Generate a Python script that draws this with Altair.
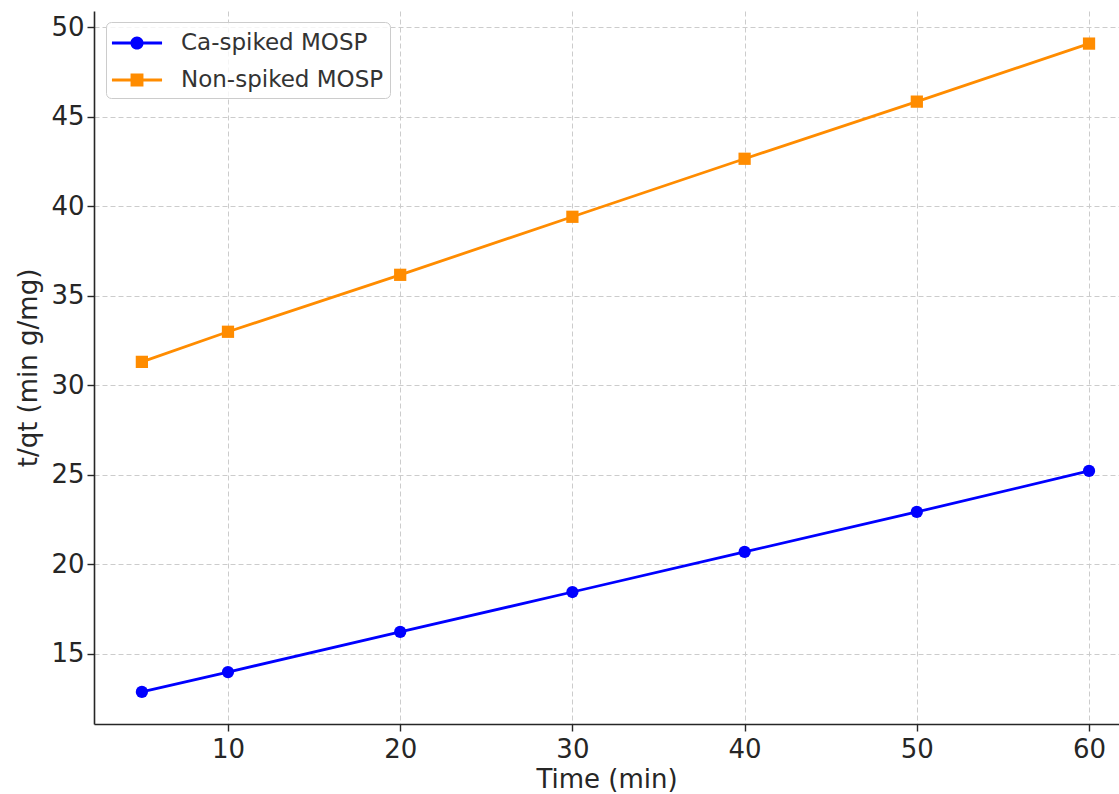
import altair as alt
import pandas as pd

# Pseudo-second-order kinetics: t/qt versus contact time
time_min = [5, 10, 20, 30, 40, 50, 60]
ca_spiked = [12.88, 13.99, 16.23, 18.46, 20.70, 22.93, 25.22]
non_spiked = [31.31, 32.99, 36.17, 39.41, 42.65, 45.84, 49.08]

series_names = ["Ca-spiked MOSP", "Non-spiked MOSP"]
series_colors = ["#0000ff", "#ff8c00"]
x_ticks = [10, 20, 30, 40, 50, 60]
y_ticks = [15, 20, 25, 30, 35, 40, 45, 50]

rows = []
for t, a, b in zip(time_min, ca_spiked, non_spiked):
    rows.append({"time": t, "value": a, "series": series_names[0]})
    rows.append({"time": t, "value": b, "series": series_names[1]})
df = pd.DataFrame(rows)

x_enc = alt.X(
    "time:Q",
    scale=alt.Scale(domain=[2.22, 61.74], nice=False, zero=False),
    axis=alt.Axis(values=x_ticks, title="Time (min)", format="d"),
)
y_enc = alt.Y(
    "value:Q",
    scale=alt.Scale(domain=[11.09, 50.9], nice=False, zero=False),
    axis=alt.Axis(values=y_ticks, title="t/qt (min g/mg)", format="d"),
)
color_scale = alt.Scale(domain=series_names, range=series_colors)

lines = alt.Chart(df).mark_line(strokeWidth=2.8).encode(
    x=x_enc,
    y=y_enc,
    color=alt.Color("series:N", scale=color_scale, legend=None),
    detail="series:N",
)

points = alt.Chart(df).mark_point(filled=True, opacity=1, size=150).encode(
    x=x_enc,
    y=y_enc,
    color=alt.Color("series:N", scale=color_scale, legend=None),
    shape=alt.Shape(
        "series:N",
        scale=alt.Scale(domain=series_names, range=["circle", "square"]),
        legend=None,
    ),
)

# Legend glyphs: a short line segment with the series marker in the middle.
# One unit is 15 px (symbolSize 900); the segment spans 50 px.
seg = "M-1.67,-0.095H-0.42V0.095H-1.67Z M0.42,-0.095H1.67V0.095H0.42Z "
circle_glyph = seg + "M0.44,0A0.44,0.44 0 1,1 -0.44,0A0.44,0.44 0 1,1 0.44,0Z"
square_glyph = "M-1.67,-0.095H1.67V0.095H-1.67Z M-0.43,-0.43H0.43V0.43H-0.43Z"

legend_props = dict(
    title=None,
    orient="none",
    legendX=12,
    legendY=11,
    symbolSize=900,
    symbolOffset=10,
    symbolStrokeWidth=0,
    labelFontSize=23,
    labelFont="DejaVu Sans",
    labelColor="#333333",
    labelOffset=29,
    labelLimit=400,
    rowPadding=10,
    padding=6,
    fillColor="rgba(255,255,255,0.8)",
    strokeColor="#cccccc",
    cornerRadius=5,
)

legend_layer = (
    alt.Chart(df)
    .transform_filter("false")
    .mark_point(filled=True, opacity=1)
    .encode(
        color=alt.Color(
            "series:N", scale=color_scale, legend=alt.Legend(**legend_props)
        ),
        shape=alt.Shape(
            "series:N",
            scale=alt.Scale(domain=series_names, range=[circle_glyph, square_glyph]),
            legend=alt.Legend(**legend_props),
        ),
    )
)

chart = (
    alt.layer(lines, points, legend_layer)
    .resolve_scale(color="independent", shape="independent")
    .properties(
        width=1025,
        height=713,
        autosize=alt.AutoSizeParams(type="none"),
        padding={"left": 94, "top": 11, "right": 0, "bottom": 70},
        background="white",
    )
    .configure_view(strokeWidth=0)
    .configure_axis(
        labelFont="DejaVu Sans",
        titleFont="DejaVu Sans",
        labelFontSize=26,
        titleFontSize=26,
        titleFontWeight="normal",
        labelColor="#262626",
        titleColor="#262626",
        domainColor="#262626",
        domainWidth=1.6,
        tickColor="#262626",
        tickWidth=1.4,
        tickSize=7,
        grid=True,
        gridColor="#cccccc",
        gridDash=[5, 3],
        gridWidth=1,
    )
    .configure_axisX(labelPadding=5, titlePadding=4)
    .configure_axisY(labelPadding=3, titlePadding=9)
)

chart.save("out.html", embed_options={"renderer": "svg", "actions": False})
